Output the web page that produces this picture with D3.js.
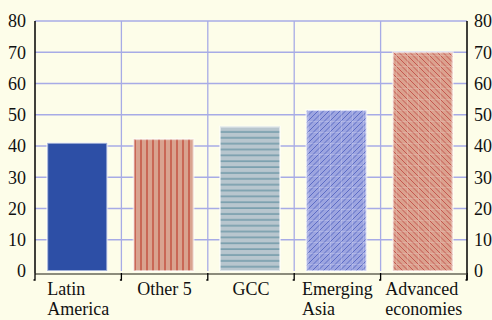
<!DOCTYPE html>
<html>
<head>
<meta charset="utf-8">
<script src="https://cdn.jsdelivr.net/npm/d3@7"></script>
<style>
  html, body { margin: 0; padding: 0; background: #fdfde9; }
  svg { display: block; }
  text { font-family: "Liberation Serif", "Times New Roman", serif; fill: #111; }
</style>
</head>
<body>
<svg id="chart" width="492" height="320"></svg>
<script>
// Share by region group
const categories = ["Latin America", "Other 5", "GCC", "Emerging Asia", "Advanced economies"];
const labelLines = [["Latin", "America"], ["Other 5"], ["GCC"], ["Emerging", "Asia"], ["Advanced", "economies"]];
const values = [41, 42.2, 46.2, 51.5, 70];
const yTicks = [0, 10, 20, 30, 40, 50, 60, 70, 80];

const svg = d3.select("#chart");
const W = 492, H = 320;
const m = { left: 35, right: 25, top: 21, bottom: 49 };
const plotR = W - m.right, plotB = H - m.bottom;

svg.append("rect").attr("width", W).attr("height", H).attr("fill", "#fdfde9");

const x = d3.scaleBand().domain(categories).range([m.left, plotR]).padding(0);
const y = d3.scaleLinear().domain([0, 80]).range([plotB, m.top]);

// Fill patterns
const defs = svg.append("defs");
function stripes(id, bg, line, w, h, draw) {
  const p = defs.append("pattern").attr("id", id).attr("patternUnits", "userSpaceOnUse")
    .attr("width", w).attr("height", h);
  p.append("rect").attr("width", w).attr("height", h).attr("fill", bg);
  draw(p, line);
}
stripes("pOther", "#d9a390", "#bf3f2f", 6, 6, (p, c) => {
  p.append("line").attr("x1", 3).attr("x2", 3).attr("y1", 0).attr("y2", 6)
    .attr("stroke", c).attr("stroke-width", 1.2);
});
stripes("pGcc", "#b8c6ce", "#5f8ea0", 6, 5.86, (p, c) => {
  p.append("line").attr("x1", 0).attr("x2", 6).attr("y1", 3).attr("y2", 3)
    .attr("stroke", c).attr("stroke-width", 1.2);
});
stripes("pAsia", "#9da5e0", "#5565c2", 11, 11, (p, c) => {
  [-5.5, 0, 5.5, 11].forEach(o => {
    p.append("line").attr("x1", o).attr("y1", 11).attr("x2", o + 11).attr("y2", 0)
      .attr("stroke", c).attr("stroke-width", 0.9);
  });
  p.append("path").attr("d", "M0,0.5H11M0.5,0V11").attr("stroke", "rgba(255,255,255,0.18)").attr("stroke-width", 1);
});
stripes("pAdv", "#dba18e", "#c2504a", 11, 11, (p, c) => {
  [-5.5, 0, 5.5, 11].forEach(o => {
    p.append("line").attr("x1", o).attr("y1", 0).attr("x2", o + 11).attr("y2", 11)
      .attr("stroke", c).attr("stroke-width", 0.9);
  });
  p.append("path").attr("d", "M0,0.5H11M0.5,0V11").attr("stroke", "rgba(255,255,255,0.15)").attr("stroke-width", 1);
});
const fills = ["#2d4fa6", "url(#pOther)", "url(#pGcc)", "url(#pAsia)", "url(#pAdv)"];

// Grid
const grid = svg.append("g").attr("stroke", "#a7abe6").attr("stroke-width", 1.3);
grid.selectAll("line.h").data(yTicks.filter(t => t > 0)).join("line")
  .attr("x1", m.left).attr("x2", plotR).attr("y1", d => y(d)).attr("y2", d => y(d));
grid.selectAll("line.v").data(categories.slice(1)).join("line")
  .attr("x1", d => x(d)).attr("x2", d => x(d)).attr("y1", m.top).attr("y2", plotB);

// Bars
const bw = 60;
svg.append("g").selectAll("rect").data(categories).join("rect")
  .attr("x", d => x(d) + (x.bandwidth() - bw) / 2 - 1)
  .attr("width", bw)
  .attr("y", (d, i) => y(values[i]))
  .attr("height", (d, i) => y(0) - y(values[i]))
  .attr("fill", (d, i) => fills[i])
  .attr("stroke", "rgba(255,255,255,0.55)").attr("stroke-width", 2);

// Y axes (no tick marks, labels on both sides)
const yL = svg.append("g").attr("transform", `translate(${m.left},0)`)
  .call(d3.axisLeft(y).tickValues(yTicks).tickSize(0).tickPadding(9));
const yR = svg.append("g").attr("transform", `translate(${plotR},0)`)
  .call(d3.axisRight(y).tickValues(yTicks).tickSize(0).tickPadding(7));
[yL, yR].forEach(g => {
  g.select(".domain").attr("stroke", "#000").attr("stroke-width", 1.5);
  g.selectAll("text").attr("font-size", 18).attr("font-family", "Liberation Serif, Times New Roman, serif").attr("fill", "#111");
});
yL.select(".domain").attr("d", `M0,${m.top}V${plotB + 2}`);
yR.select(".domain").attr("d", `M0,${m.top}V${plotB + 9}`);

// Category axis: grey baseline with bracket ticks at band edges
const base = plotB + 3;
svg.append("line").attr("x1", m.left).attr("x2", plotR).attr("y1", base).attr("y2", base)
  .attr("stroke", "#8c8c7c").attr("stroke-width", 2);
const edges = categories.map(c => x(c)).concat([plotR]);
svg.append("g").selectAll("path").data(edges).join("path")
  .attr("d", d => `M${d - 1.5},${base + 6}H${d}V${base - 1}`)
  .attr("fill", "none").attr("stroke", "#000").attr("stroke-width", 1.3);

// Category labels, block-centred with left-aligned lines
const lab = svg.append("g");
categories.forEach((c, i) => {
  const t = lab.append("text").attr("font-size", 18).attr("text-anchor", "start");
  labelLines[i].forEach((ln, j) => {
    t.append("tspan").attr("y", base + 21 + j * 20).text(ln);
  });
  const maxW = d3.max(t.selectAll("tspan").nodes(), n => n.getComputedTextLength());
  const cx = x(c) + x.bandwidth() / 2;
  t.selectAll("tspan").attr("x", cx - maxW / 2);
});
</script>
</body>
</html>
